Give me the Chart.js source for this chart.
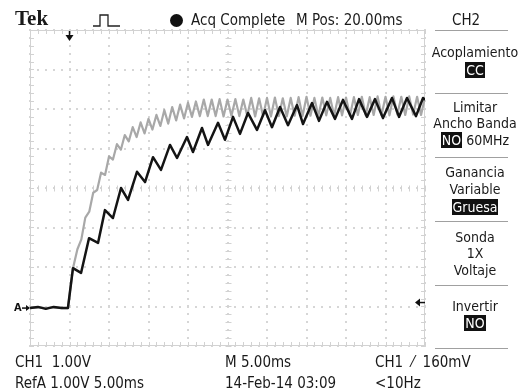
<!DOCTYPE html>
<html>
<head>
<meta charset="utf-8">
<script src="https://cdn.jsdelivr.net/npm/chart.js@4.4.1/dist/chart.umd.min.js"></script>
<style>
  body { margin: 0; background: #fff; }
  #wrap { position: relative; width: 526px; height: 389px; overflow: hidden;
          font-family: "DejaVu Sans Condensed", "DejaVu Sans", sans-serif; color: #1a1a1a; }
  canvas { position: absolute; left: 0; top: 0; }
  .t { position: absolute; white-space: nowrap; font-size: 15px; line-height: 16px; }
  .p { position: absolute; left: 430px; width: 90px; text-align: center; font-size: 14px; line-height: 16px; white-space: nowrap; }
  .inv { background: #111; color: #fff; padding: 0 1px; }
  .sep { position: absolute; left: 435px; width: 73px; height: 1px; background: #a0a0a0; }
  .tek { font-family: "Liberation Serif", "DejaVu Serif", serif; font-weight: bold; font-size: 21px; }
  .dot { position: absolute; left: 170px; top: 14px; width: 13px; height: 13px; border-radius: 50%; background: #111; }
</style>
</head>
<body>
<div id="wrap">
  <canvas id="scope" width="526" height="389"></canvas>

  <div class="t tek" style="left:15px;top:10px;">Tek</div>
  <svg style="position:absolute;left:92px;top:12px" width="30" height="16">
    <path d="M1 14 H8 V3 H16 V14 H28" fill="none" stroke="#222" stroke-width="1.3"/>
  </svg>
  <div class="dot"></div>
  <div class="t" style="left:191px;top:12px;">Acq Complete</div>
  <div class="t" style="left:296px;top:12px;">M Pos: 20.00ms</div>
  <div class="t" style="left:452px;top:12px;">CH2</div>

  <div class="sep" style="top:30px"></div>
  <div class="p" style="top:44px">Acoplamiento</div>
  <div class="p" style="top:62px"><span class="inv">CC</span></div>
  <div class="sep" style="top:93px"></div>
  <div class="p" style="top:99px">Limitar</div>
  <div class="p" style="top:115px">Ancho Banda</div>
  <div class="p" style="top:132px"><span class="inv">NO</span> 60MHz</div>
  <div class="sep" style="top:157px"></div>
  <div class="p" style="top:164px">Ganancia</div>
  <div class="p" style="top:181px">Variable</div>
  <div class="p" style="top:199px"><span class="inv">Gruesa</span></div>
  <div class="sep" style="top:221px"></div>
  <div class="p" style="top:229px">Sonda</div>
  <div class="p" style="top:245px">1X</div>
  <div class="p" style="top:262px">Voltaje</div>
  <div class="sep" style="top:285px"></div>
  <div class="p" style="top:298px">Invertir</div>
  <div class="p" style="top:315px"><span class="inv">NO</span></div>
  <div class="sep" style="top:348px"></div>

  <div class="t" style="left:15px;top:354px;">CH1&nbsp;&nbsp;1.00V</div>
  <div class="t" style="left:225px;top:354px;">M 5.00ms</div>
  <div class="t" style="left:375px;top:354px;">CH1 &nbsp;⁄&nbsp; 160mV</div>
  <div class="t" style="left:15px;top:375px;">RefA 1.00V 5.00ms</div>
  <div class="t" style="left:225px;top:375px;">14-Feb-14 03:09</div>
  <div class="t" style="left:375px;top:375px;">&lt;10Hz</div>
</div>

<script>
// time in ms (5 ms/div, 10 div), level in V (1 V/div, 8 div, centre = 0)
const ch1Time = [0, 1, 2, 3, 4, 4.8, 5.06, 5.44, 6.46, 7.47, 8.61, 9.49, 10.5, 11.52, 12.41, 13.54, 14.56,
  15.57, 16.58, 17.72, 18.61, 19.87, 20.63, 21.77, 22.53, 23.8, 24.68, 25.7, 26.58, 27.59, 28.73, 29.75,
  30.63, 31.65, 32.66, 33.8, 34.56, 35.7, 36.58, 37.59, 38.61, 39.62, 40.76, 41.65, 42.66, 43.67, 44.68,
  45.82, 46.71, 47.72, 48.86, 49.75, 50];
const ch1Volts = [-3.04, -3.01, -3.06, -3.01, -3.04, -3.04, -2.63, -2.03, -2.15, -1.27, -1.39, -0.56, -0.76,
  0, -0.3, 0.41, 0.15, 0.78, 0.46, 1.09, 0.76, 1.29, 0.91, 1.52, 1.09, 1.65, 1.22, 1.8, 1.37, 1.9, 1.47,
  1.97, 1.54, 2.05, 1.59, 2.1, 1.62, 2.15, 1.7, 2.18, 1.75, 2.23, 1.75, 2.25, 1.8, 2.25, 1.77, 2.28, 1.8,
  2.28, 1.82, 2.28, 2.23];

const refTime = [0, 1, 2, 3, 4, 4.8, 5.06, 5.44,
  6, 6.5, 7, 7.5, 8, 8.5, 9, 9.5, 10, 10.5, 11, 11.5, 12, 12.5, 13, 13.5, 14, 14.5, 15, 15.5, 16, 16.5,
  17, 17.5, 18, 18.5, 19, 19.5, 20, 20.5, 21, 21.5, 22, 22.5, 23, 23.5, 24, 24.5, 25, 25.5, 26, 26.5,
  27, 27.5, 28, 28.5, 29, 29.5, 30, 30.5, 31, 31.5, 32, 32.5, 33, 33.5, 34, 34.5, 35, 35.5, 36, 36.5,
  37, 37.5, 38, 38.5, 39, 39.5, 40, 40.5, 41, 41.5, 42, 42.5, 43, 43.5, 44, 44.5, 45, 45.5, 46, 46.5,
  47, 47.5, 48, 48.5, 49, 49.5, 50];
const refVolts = [-3.04, -3.02, -3.04, -3.02, -3.04, -3.04, -2.63, -2.03,
  -1.55, -1.3, -0.75, -0.6, -0.12, -0.05, 0.39, 0.33, 0.8, 0.72, 1.11, 0.97, 1.34, 1.18, 1.54, 1.29,
  1.66, 1.38, 1.75, 1.48, 1.85, 1.57, 1.97, 1.63, 2.05, 1.71, 2.11, 1.76, 2.16, 1.8, 2.19, 1.82,
  2.24, 1.82, 2.24, 1.82, 2.25, 1.81, 2.24, 1.83, 2.25, 1.82, 2.24, 1.83, 2.28, 1.81, 2.27, 1.82,
  2.28, 1.81, 2.29, 1.82, 2.27, 1.81, 2.28, 1.83, 2.3, 1.82, 2.31, 1.83, 2.28, 1.82, 2.29, 1.84,
  2.28, 1.83, 2.3, 1.84, 2.29, 1.83, 2.3, 1.85, 2.31, 1.84, 2.3, 1.85, 2.32, 1.85, 2.31, 1.84,
  2.32, 1.86, 2.31, 1.85, 2.32, 1.86, 2.31, 1.85, 2.3];

const xDivs = [0, 5, 10, 15, 20, 25, 30, 35, 40, 45, 50];
const yDivs = [-4, -3, -2, -1, 0, 1, 2, 3, 4];
const triggerPos = 5;      // ms
const triggerLevel = -2.9; // V
const refGround = -3.04;   // V

function pairs(xs, ys) { return xs.map((v, i) => ({ x: v, y: ys[i] })); }

// faint dotted scope graticule + edge / centre tick marks, drawn from the chart scales
const graticule = {
  id: 'graticule',
  beforeDatasetsDraw(chart) {
    const { ctx, chartArea: a, scales: { x, y } } = chart;
    ctx.save();
    ctx.fillStyle = '#d6d6d6';
    const minorX = 1, minorY = 0.2;
    xDivs.forEach(t => {
      const px = Math.round(x.getPixelForValue(t));
      for (let v = -4; v <= 4.001; v += minorY) ctx.fillRect(px - 1, Math.round(y.getPixelForValue(v)) - 1, 2, 2);
    });
    yDivs.forEach(v => {
      const py = Math.round(y.getPixelForValue(v));
      for (let t = 0; t <= 50.001; t += minorX) ctx.fillRect(Math.round(x.getPixelForValue(t)) - 1, py - 1, 2, 2);
    });
    ctx.strokeStyle = '#d2d2d2';
    ctx.lineWidth = 1;
    ctx.strokeRect(a.left + 0.5, a.top + 0.5, a.width - 1, a.height - 1);
    ctx.beginPath();
    const cx = Math.round(x.getPixelForValue(25)) + 0.5, cy = Math.round(y.getPixelForValue(0)) + 0.5;
    for (let t = 0; t <= 50.001; t += minorX) {
      const px = Math.round(x.getPixelForValue(t)) + 0.5;
      ctx.moveTo(px, a.top); ctx.lineTo(px, a.top + 4);
      ctx.moveTo(px, a.bottom); ctx.lineTo(px, a.bottom - 4);
      ctx.moveTo(px, cy - 3); ctx.lineTo(px, cy + 3);
    }
    for (let v = -4; v <= 4.001; v += minorY) {
      const py = Math.round(y.getPixelForValue(v)) + 0.5;
      ctx.moveTo(a.left, py); ctx.lineTo(a.left + 4, py);
      ctx.moveTo(a.right, py); ctx.lineTo(a.right - 4, py);
      ctx.moveTo(cx - 3, py); ctx.lineTo(cx + 3, py);
    }
    ctx.stroke();
    ctx.restore();
  },
  afterDatasetsDraw(chart) {
    const { ctx, chartArea: a, scales: { x, y } } = chart;
    ctx.save();
    ctx.fillStyle = '#111';
    ctx.strokeStyle = '#111';
    ctx.lineWidth = 1.5;
    // trigger position marker
    const tx = x.getPixelForValue(triggerPos);
    ctx.beginPath(); ctx.moveTo(tx, a.top + 1); ctx.lineTo(tx, a.top + 6); ctx.stroke();
    ctx.beginPath(); ctx.moveTo(tx - 4, a.top + 5); ctx.lineTo(tx + 4, a.top + 5); ctx.lineTo(tx, a.top + 11); ctx.fill();
    // reference ground marker
    const gy = y.getPixelForValue(refGround);
    ctx.font = 'bold 11px "DejaVu Sans Condensed", sans-serif';
    ctx.textBaseline = 'middle';
    ctx.fillText('A', a.left - 16, gy);
    ctx.beginPath(); ctx.moveTo(a.left - 8, gy); ctx.lineTo(a.left - 1, gy); ctx.stroke();
    ctx.beginPath(); ctx.moveTo(a.left, gy); ctx.lineTo(a.left - 4, gy - 3); ctx.lineTo(a.left - 4, gy + 3); ctx.fill();
    // trigger level marker
    const ly = y.getPixelForValue(triggerLevel);
    ctx.beginPath(); ctx.moveTo(a.right - 6, ly); ctx.lineTo(a.right, ly); ctx.stroke();
    ctx.beginPath(); ctx.moveTo(a.right - 10, ly); ctx.lineTo(a.right - 5, ly - 4); ctx.lineTo(a.right - 5, ly + 4); ctx.fill();
    ctx.restore();
  }
};

new Chart(document.getElementById('scope'), {
  type: 'line',
  data: {
    datasets: [
      { label: 'CH1', data: pairs(ch1Time, ch1Volts), borderColor: '#141414', borderWidth: 2.5, order: 0 },
      { label: 'RefA', data: pairs(refTime, refVolts), borderColor: '#a8a8a8', borderWidth: 2.2, order: 1 }
    ]
  },
  options: {
    responsive: false,
    animation: false,
    events: [],
    layout: { padding: { left: 30, right: 101, top: 30, bottom: 43 } },
    elements: { point: { radius: 0 }, line: { tension: 0, borderJoinStyle: 'round' } },
    plugins: { legend: { display: false }, tooltip: { enabled: false } },
    scales: {
      x: { type: 'linear', min: 0, max: 50, display: false },
      y: { type: 'linear', min: -4, max: 4, display: false }
    }
  },
  plugins: [graticule]
});
</script>
</body>
</html>
